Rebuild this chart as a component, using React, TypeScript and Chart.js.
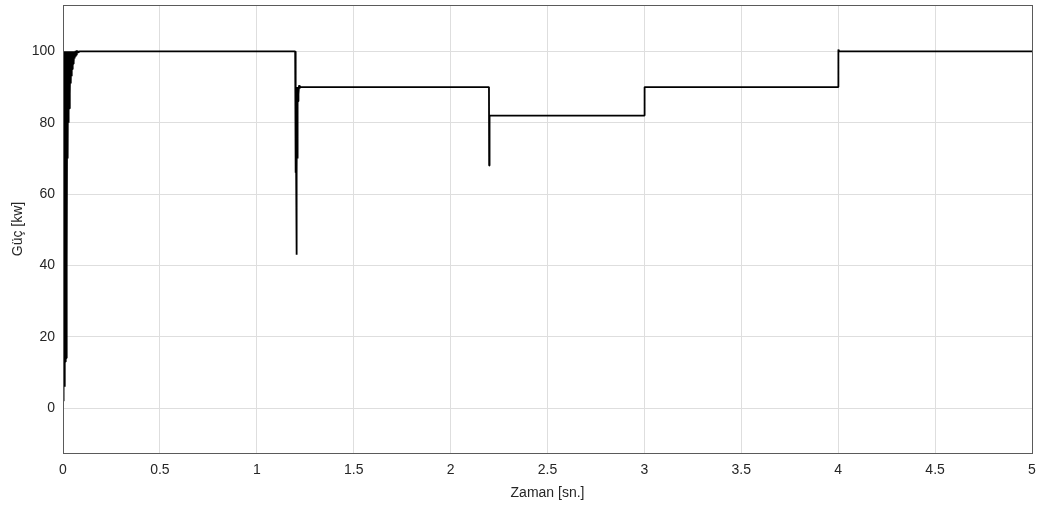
import React, { useEffect, useRef } from "react";
import { Chart, registerables } from "chart.js";

Chart.register(...registerables);

// Start-up transient (0 – 0.1 s)
const startupTime = [
  0, 0.002, 0.004, 0.006, 0.008, 0.01, 0.012, 0.014, 0.016, 0.018, 0.02, 0.022, 0.024, 0.026,
  0.028, 0.03, 0.032, 0.034, 0.036, 0.038, 0.04, 0.042, 0.044, 0.046, 0.048, 0.05, 0.052,
  0.054, 0.056, 0.058, 0.06, 0.062, 0.064, 0.066, 0.068, 0.07, 0.072, 0.074, 0.076, 0.078,
  0.08, 0.085, 0.09,
];
const startupPower = [
  2, 100, 3, 100, 6, 100, 13, 100, 14, 100, 40, 100, 70, 100,
  80, 100, 84, 100, 88, 100, 91, 100, 93, 100, 95, 100, 96.5,
  100, 97, 100, 98, 100, 98.5, 100.2, 99, 100.3, 99.3, 100.2, 99.5, 100.1,
  99.7, 100, 100,
];

// Load step near 1.2 s
const dip1Time = [
  1.198, 1.199, 1.2, 1.201, 1.202, 1.203, 1.204, 1.205, 1.206, 1.207, 1.208, 1.209, 1.21,
  1.211, 1.212, 1.213, 1.214, 1.216, 1.218, 1.22, 1.222, 1.225, 1.23,
];
const dip1Power = [
  100, 100, 90, 66, 90, 67, 90, 43, 88, 66, 90, 70, 90,
  78, 90, 86, 90, 88, 90.5, 89.5, 90.3, 90, 90,
];

// Steps at 2.2 s, 3.0 s and 4.0 s
const stepTime = [2.198, 2.199, 2.2, 2.202, 2.21, 3.0, 3.001, 3.006, 4.0, 4.001, 4.006, 5.0];
const stepPower = [90, 68, 81, 82, 82, 82, 90, 90, 90, 100.5, 100, 100];

const timeSec = [...startupTime, ...dip1Time, ...stepTime];
const powerKw = [...startupPower, ...dip1Power, ...stepPower];

const xTicks = [0, 0.5, 1, 1.5, 2, 2.5, 3, 3.5, 4, 4.5, 5];
const yTicks = [0, 20, 40, 60, 80, 100];

const FONT = "'Liberation Sans', Arial, Helvetica, sans-serif";
const TEXT = "#262626";

const boxPlugin = {
  id: "box",
  afterDraw(chart: any) {
    const { ctx, chartArea } = chart;
    ctx.save();
    ctx.strokeStyle = "#5a5a5a";
    ctx.lineWidth = 1;
    ctx.strokeRect(
      Math.round(chartArea.left) + 0.5,
      Math.round(chartArea.top) + 0.5,
      Math.round(chartArea.right - chartArea.left),
      Math.round(chartArea.bottom - chartArea.top)
    );
    ctx.restore();
  },
};

export default function App() {
  const ref = useRef<HTMLCanvasElement | null>(null);
  useEffect(() => {
    document.body.style.margin = "0";
    const data = timeSec.map((t, i) => ({ x: t, y: powerKw[i] }));
    const chart = new Chart(ref.current!, {
      type: "line",
      data: {
        datasets: [
          {
            data,
            borderColor: "#000000",
            borderWidth: 1.8,
            pointRadius: 0,
            tension: 0,
            borderJoinStyle: "bevel",
          },
        ],
      },
      options: {
        animation: false,
        responsive: false,
        maintainAspectRatio: false,
        layout: { padding: { left: 0, right: 12, top: 5, bottom: 0 } },
        plugins: { legend: { display: false }, tooltip: { enabled: false } },
        scales: {
          x: {
            type: "linear",
            min: 0,
            max: 5,
            afterFit: (s: any) => {
              s.height = 53;
              s.paddingLeft = 0;
              s.paddingRight = 0;
            },
            afterBuildTicks: (s: any) => {
              s.ticks = xTicks.map((v) => ({ value: v }));
            },
            grid: { color: "#dedede", drawTicks: false, lineWidth: 1 },
            border: { display: false },
            ticks: {
              padding: 9,
              color: TEXT,
              font: { family: FONT, size: 14 },
              maxRotation: 0,
              callback: (v: any) => String(v),
            },
            title: {
              display: true,
              text: "Zaman [sn.]",
              color: TEXT,
              font: { family: FONT, size: 14 },
              padding: { top: 0, bottom: 4.5 },
            },
          },
          y: {
            type: "linear",
            min: -12.6,
            max: 113,
            afterFit: (s: any) => {
              s.width = 63;
              s.paddingTop = 0;
              s.paddingBottom = 0;
            },
            afterBuildTicks: (s: any) => {
              s.ticks = yTicks.map((v) => ({ value: v }));
            },
            grid: { color: "#dedede", drawTicks: false, lineWidth: 1 },
            border: { display: false },
            ticks: {
              padding: 8,
              color: TEXT,
              font: { family: FONT, size: 14 },
              callback: (v: any) => String(v),
            },
            title: {
              display: true,
              text: "Güç [kw]",
              color: TEXT,
              font: { family: FONT, size: 14 },
              padding: { top: 10, bottom: 0 },
            },
          },
        },
      },
      plugins: [boxPlugin],
    });
    return () => chart.destroy();
  }, []);
  return (
    <div style={{ width: 1044, height: 506, background: "#ffffff" }}>
      <canvas ref={ref} width={1044} height={506} style={{ display: "block" }} />
    </div>
  );
}
